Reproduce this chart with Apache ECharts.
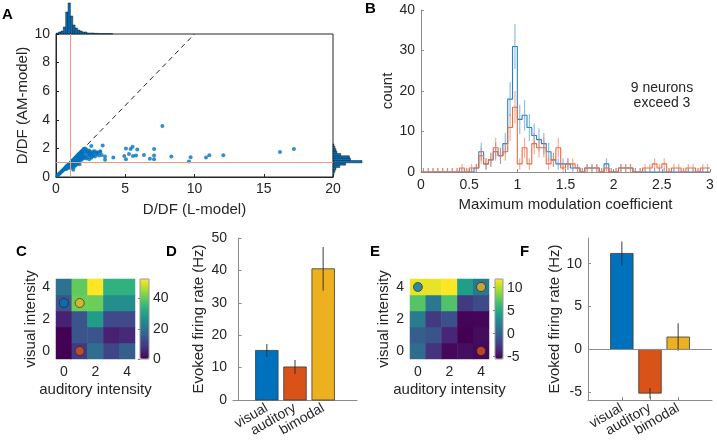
<!DOCTYPE html>
<html><head><meta charset="utf-8">
<script src="https://cdn.jsdelivr.net/npm/echarts@6/dist/echarts.min.js"></script>
<style>html,body{margin:0;padding:0;background:#fff}#c{width:717px;height:443px}</style>
</head><body><div id="c"></div>
<script>
// ---------- DATA ----------
// Panel A: scatter of D/DF (L-model) vs D/DF (AM-model)
const A_POINTS = [
 [0.1,0.08],[0.15,0.14],[0.2,0.19],[0.25,0.24],[0.3,0.28],[0.35,0.33],[0.4,0.38],[0.45,0.42],[0.5,0.47],[0.55,0.52],
 [0.6,0.56],[0.62,0.6],[0.65,0.62],[0.7,0.66],[0.72,0.7],[0.75,0.7],[0.78,0.75],[0.8,0.78],[0.82,0.74],[0.85,0.8],
 [0.88,0.85],[0.9,0.82],[0.92,0.9],[0.95,0.88],[0.97,0.93],[1.0,0.95],[1.02,0.9],[1.05,1.0],[1.08,0.98],[1.1,1.05],
 [1.12,0.95],[1.15,1.1],[1.18,1.05],[1.2,1.15],[1.22,1.0],[1.25,1.2],[1.28,1.1],[1.3,1.25],[1.32,1.15],[1.35,1.3],
 [1.38,1.2],[1.4,1.35],[1.42,1.25],[1.45,1.4],[1.48,1.3],[1.5,1.45],[1.52,1.35],[1.55,1.5],[1.58,1.4],[1.6,1.55],
 [1.62,1.45],[1.65,1.6],[1.68,1.5],[1.7,1.65],[1.72,1.4],[1.75,1.7],[1.78,1.55],[1.8,1.75],[1.82,1.6],[1.85,1.78],
 [1.88,1.65],[1.9,1.85],[1.95,1.7],[2.0,1.95],[2.05,1.8],[2.1,2.0],[2.15,1.75],[2.2,1.9],[2.25,1.6],[2.3,1.8],
 [2.35,1.7],[2.4,1.85],[2.45,1.5],[2.5,1.75],[2.6,1.65],[2.7,1.55],[2.8,1.8],[2.9,1.6],[3.0,1.7],[3.1,1.5],[3.2,1.75],
 [0.8,0.6],[0.9,0.7],[1.0,0.75],[1.05,0.8],[1.1,0.85],[1.15,0.75],[1.2,0.9],[1.25,0.85],[1.3,0.95],[1.35,0.9],
 [1.4,1.0],[1.45,1.05],[1.5,1.1],[1.55,1.0],[1.6,1.15],[1.65,1.2],[1.7,1.1],[1.75,1.25],[1.8,1.3],[1.85,1.2],
 [1.9,1.4],[1.95,1.3],[2.0,1.5],[2.05,1.35],[2.1,1.45],[2.2,1.3],[2.3,1.4],[2.4,1.25],[2.55,1.35],[2.65,1.45],
 [0.7,0.55],[0.95,0.65],[1.15,0.65],[1.4,0.8],[1.6,0.95],[1.7,0.9],[1.3,0.7],[1.45,0.85],[1.25,0.51],
 [7.68,3.57],[3.37,2.21],[2.55,2.17],[5.05,2.0],[5.39,1.96],[5.53,2.12],[5.87,1.93],[7.08,1.96],[5.27,1.61],[5.56,1.47],
 [5.78,1.5],[6.35,1.54],[6.78,1.28],[7.08,1.5],[7.08,1.24],[4.93,1.47],[5.05,1.24],[4.14,1.36],[3.54,1.43],[3.54,1.2],
 [3.3,1.54],[8.33,1.43],[9.6,1.08],[9.72,1.38],[10.83,1.36],[11.07,1.52],[12.08,1.52],[16.17,1.74],[17.18,1.96],
 [2.94,1.72],[3.18,1.8],[2.82,1.43],[2.7,1.79],[2.46,1.61]
];
const A_REF_X = 1;           // vertical reference line
const A_REF_Y = 1;           // horizontal reference line
const A_DIAG = [[0,0],[10,10]];  // identity line
const A_TOP_BIN_START = 0.02, A_TOP_BIN_WIDTH = 0.17;
const A_TOP_COUNTS = [3,6,9,21,66,93,54,27,18,12,9,6,6,3,3,3,2,2,1,1,1,1,1,1];
const A_RIGHT_BIN_START = 0, A_RIGHT_BIN_WIDTH = 0.165;
const A_RIGHT_COUNTS = [1,3,6,9,21,39,90,54,51,24,12,9,6,3];

// Panel B: histograms of maximum modulation coefficient
const B_BIN_START = 0, B_BIN_WIDTH = 0.05;
const B_BLUE = [0,0,0,0,0,0,0,0,0,0,0, 1,5,2,3,5,4,7,18,31,13,14,11,9,8,7,5,3,2,2,2,1,1,0,1,1,1,0,2,0,0,1,1,1, 0,0,0,0,0,0,0,0,0,0,0,0,0,0,0,0];
const B_ORANGE = [0,0,0,0,0,0,0,0, 1,0,1,1,4,2,3,6,4,5,11,16,2,6,2,7,6,6,2,3,6,1,2,2,1,0,1,1,1,0,1,0,0,1,1,1,0,0,1,1,2,1,2,0,1,1,0,1,1,0,1,1];
const B_NOTE = '9 neurons\nexceed 3';

// Panels C / E: heatmaps (rows = visual intensity 0..4, columns = auditory intensity 0..4)
const INTENSITIES = ['0','1','2','3','4'];
const C_ROWS = [
 [0, 9, 19, 11, 16],
 [0, 14, 14, 5, 6],
 [5, 14, 29, 12, 12],
 [14, 41, 41, 26, 26],
 [20, 40, 53, 34, 34]
];
const C_RANGE = [0, 53];
const C_MARKS = [[0,3],[1,3],[1,0]];
const E_ROWS = [
 [0.6, -2.9, -5.1, -4.8, -5.1],
 [-0.3, -1.0, -3.7, -5.5, -5.0],
 [1.8, -2.5, -1.2, -5.3, -5.3],
 [7.2, 1.5, 7.0, -2.5, -1.5],
 [11.3, 11.3, 11.9, 4.2, 1.5]
];
const E_RANGE = [-5.5, 11.9];
const E_MARKS = [[0,4],[4,4],[4,0]];
const MARK_COLORS = ['#0072BD','#EDB120','#D95319'];

// Panels D / F: evoked firing rates
const CATS = ['visual','auditory','bimodal'];
const CAT_POS = [1,2,3];
const D_MEANS = [15.3, 10.2, 40.5];
const D_ERR = [1.95, 2.15, 6.7];
const F_MEANS = [11.2, -5.1, 1.45];
const F_ERR = [1.4, 0.6, 1.6];
const BAR_COLORS = ['#0072BD','#D95319','#EDB120'];

// ---------- STYLE ----------
const FONT = 'Liberation Sans, Arial, Helvetica, sans-serif';
const TXT = '#262626';
const AXC = '#8c8c8c';
const VIRIDIS = ['#440154','#482878','#3e4989','#31688e','#26828e','#1f9e89','#35b779','#6ece58','#b5de2b','#fde725'];

const chart = echarts.init(document.getElementById('c'), null, {renderer:'canvas'});

function baseAxis(extra){
  return Object.assign({
    axisLine:{show:true, lineStyle:{color:AXC, width:1}},
    axisTick:{show:true, inside:true, length:3, lineStyle:{color:AXC}},
    axisLabel:{color:TXT, fontSize:14, fontFamily:FONT},
    splitLine:{show:false},
    nameTextStyle:{color:TXT, fontSize:15, fontFamily:FONT},
    nameLocation:'middle'
  }, extra);
}
function hidden(extra){ return Object.assign({show:false, splitLine:{show:false}}, extra); }

// derived series data
const aTop = A_TOP_COUNTS.map((c,i)=>[A_TOP_BIN_START+i*A_TOP_BIN_WIDTH, A_TOP_BIN_START+(i+1)*A_TOP_BIN_WIDTH, c]);
const aRight = A_RIGHT_COUNTS.map((c,i)=>[A_RIGHT_BIN_START+i*A_RIGHT_BIN_WIDTH, A_RIGHT_BIN_START+(i+1)*A_RIGHT_BIN_WIDTH, c]);
function stepData(counts){
  const d = counts.map((c,i)=>[B_BIN_START+i*B_BIN_WIDTH, c]);
  d.push([B_BIN_START+counts.length*B_BIN_WIDTH, counts[counts.length-1]]);
  return d;
}
function errData(counts){ return counts.map((c,i)=>[B_BIN_START+(i+0.5)*B_BIN_WIDTH, c, Math.sqrt(Math.max(c,1))]); }
function heatData(rows){ const d=[]; rows.forEach((r,y)=>r.forEach((v,x)=>d.push([x,y,v]))); return d; }
function markData(marks){ return marks.map((m,i)=>({value:m, itemStyle:{color:MARK_COLORS[i]}})); }
function barData(means, errs){ return means.map((m,i)=>[CAT_POS[i], m, errs[i]]); }

function renderTopHist(params, api){
  const a = api.coord([api.value(0), 0]), b = api.coord([api.value(1), api.value(2)]);
  return {type:'rect', shape:{x:a[0], y:b[1], width:b[0]-a[0], height:a[1]-b[1]}, style:{fill:'#0072BD', stroke:'#1a1a1a', lineWidth:0.5}};
}
function renderRightHist(params, api){
  const a = api.coord([0, api.value(0)]), b = api.coord([api.value(2), api.value(1)]);
  return {type:'rect', shape:{x:a[0], y:b[1], width:b[0]-a[0], height:a[1]-b[1]}, style:{fill:'#0072BD', stroke:'#1a1a1a', lineWidth:0.5}};
}
function errRenderer(color){
  return function(params, api){
    const x = api.value(0), n = api.value(1), e = api.value(2);
    const a = api.coord([x, n-e]), b = api.coord([x, n+e]);
    return {type:'line', shape:{x1:a[0], y1:a[1], x2:b[0], y2:b[1]}, style:{stroke:color, lineWidth:1.2}};
  };
}
const BAR_W = 0.8;
function renderBars(params, api){
  const x = api.value(0), m = api.value(1), e = api.value(2);
  const a = api.coord([x-BAR_W/2, 0]), b = api.coord([x+BAR_W/2, m]);
  const t = api.coord([x, m+e]), u = api.coord([x, m-e]);
  return {type:'group', children:[
    {type:'rect', shape:{x:a[0], y:Math.min(a[1],b[1]), width:b[0]-a[0], height:Math.abs(a[1]-b[1])}, style:{fill:BAR_COLORS[params.dataIndex], stroke:'#3a3a3a', lineWidth:0.8}},
    {type:'line', shape:{x1:t[0], y1:t[1], x2:u[0], y2:u[1]}, style:{stroke:'rgba(40,40,40,0.7)', lineWidth:1.3}}
  ]};
}

const grids = [
  {left:56, top:34, width:277, height:143, show:true, borderColor:'#262626', borderWidth:1, backgroundColor:'transparent'}, //0 A main
  {left:56, top:2, width:277, height:32},     //1 A top hist
  {left:333, top:34, width:30, height:143},   //2 A right hist
  {left:421, top:10, width:289, height:162},  //3 B
  {left:56, top:279, width:79, height:80},    //4 C
  {left:233, top:238, width:124, height:162}, //5 D
  {left:410, top:279, width:79, height:80},   //6 E
  {left:588, top:238, width:124, height:162}, //7 F
  {left:140, top:279, width:9, height:80, show:true, borderColor:'#999', borderWidth:1, backgroundColor:'transparent', z:5}, //8 C colorbar
  {left:495, top:279, width:8, height:80, show:true, borderColor:'#999', borderWidth:1, backgroundColor:'transparent', z:5}  //9 E colorbar
];

const catLabel = {customValues:CAT_POS, formatter:(v)=>CATS[Math.round(v)-1], rotate:30, margin:7, color:TXT, fontSize:14, fontFamily:FONT};
const catTick = {show:true, customValues:CAT_POS, inside:true, length:3, lineStyle:{color:AXC}};

const xAxes = [
  baseAxis({gridIndex:0, type:'value', min:0, max:20, interval:5, name:'D/DF (L-model)', nameGap:25,
    axisLine:{show:true, lineStyle:{color:'#262626'}}, axisTick:{show:true, inside:true, length:3, lineStyle:{color:'#262626'}}, axisLabel:{color:TXT, fontSize:14, fontFamily:FONT, margin:5}}),
  hidden({gridIndex:1, type:'value', min:0, max:20}),
  hidden({gridIndex:2, type:'value', min:0, max:93}),
  baseAxis({gridIndex:3, type:'value', min:0, max:3, interval:0.5, name:'Maximum modulation coefficient', nameGap:25,
    axisLabel:{color:TXT, fontSize:14, fontFamily:FONT, margin:6, formatter:(v)=>String(v)}}),
  baseAxis({gridIndex:4, type:'category', data:INTENSITIES, name:'auditory intensity', nameGap:23,
    axisLine:{show:false}, axisTick:{show:false}, axisLabel:{interval:1, color:TXT, fontSize:14, fontFamily:FONT, margin:6}}),
  baseAxis({gridIndex:5, type:'value', min:-0.2, max:4.2, axisLabel:catLabel, axisTick:catTick}),
  baseAxis({gridIndex:6, type:'category', data:INTENSITIES, name:'auditory intensity', nameGap:23,
    axisLine:{show:false}, axisTick:{show:false}, axisLabel:{interval:1, color:TXT, fontSize:14, fontFamily:FONT, margin:6}}),
  baseAxis({gridIndex:7, type:'value', min:-0.2, max:4.2, axisLine:{show:true, onZero:false, lineStyle:{color:AXC}}, axisLabel:catLabel, axisTick:catTick}),
  hidden({gridIndex:8, type:'value', min:0, max:1}),
  hidden({gridIndex:9, type:'value', min:0, max:1})
];
const yAxes = [
  baseAxis({gridIndex:0, type:'value', min:0, max:10, interval:2, name:'D/DF (AM-model)', nameGap:22,
    axisLine:{show:true, lineStyle:{color:'#262626'}}, axisTick:{show:true, inside:true, length:3, lineStyle:{color:'#262626'}}, axisLabel:{color:TXT, fontSize:14, fontFamily:FONT, margin:6}}),
  hidden({gridIndex:1, type:'value', min:0, max:96}),
  hidden({gridIndex:2, type:'value', min:0, max:10}),
  baseAxis({gridIndex:3, type:'value', min:0, max:40, interval:10, name:'count', nameGap:23, axisLabel:{color:TXT, fontSize:14, fontFamily:FONT, margin:6}}),
  baseAxis({gridIndex:4, type:'category', data:INTENSITIES, name:'visual intensity', nameGap:18,
    axisLine:{show:false}, axisTick:{show:false}, axisLabel:{interval:1, color:TXT, fontSize:14, fontFamily:FONT, margin:6}}),
  baseAxis({gridIndex:5, type:'value', min:0, max:50, interval:10, name:'Evoked firing rate (Hz)', nameGap:27, axisLabel:{color:TXT, fontSize:14, fontFamily:FONT, margin:6}}),
  baseAxis({gridIndex:6, type:'category', data:INTENSITIES, name:'visual intensity', nameGap:19,
    axisLine:{show:false}, axisTick:{show:false}, axisLabel:{interval:1, color:TXT, fontSize:14, fontFamily:FONT, margin:6}}),
  baseAxis({gridIndex:7, type:'value', min:-5.9, max:13, name:'Evoked firing rate (Hz)', nameGap:26,
    axisLine:{show:true, onZero:false, lineStyle:{color:AXC}},
    axisTick:{show:true, inside:true, length:3, customValues:[-5,0,5,10], lineStyle:{color:AXC}},
    axisLabel:{customValues:[-5,0,5,10], color:TXT, fontSize:14, fontFamily:FONT, margin:6}}),
  baseAxis({gridIndex:8, type:'value', min:C_RANGE[0], max:C_RANGE[1], position:'right',
    axisLine:{show:false}, axisTick:{show:true, inside:true, length:2, customValues:[0,20,40], lineStyle:{color:'#777'}},
    axisLabel:{customValues:[0,20,40], color:TXT, fontSize:14, fontFamily:FONT, margin:4}}),
  baseAxis({gridIndex:9, type:'value', min:E_RANGE[0], max:E_RANGE[1], position:'right',
    axisLine:{show:false}, axisTick:{show:true, inside:true, length:2, customValues:[-5,0,5,10], lineStyle:{color:'#777'}},
    axisLabel:{customValues:[-5,0,5,10], color:TXT, fontSize:14, fontFamily:FONT, margin:4}})
];

const series = [
  // A
  {type:'scatter', xAxisIndex:0, yAxisIndex:0, data:A_POINTS, symbolSize:4, itemStyle:{color:'#0072BD'}, z:3,
   markLine:{silent:true, symbol:'none', label:{show:false}, lineStyle:{color:'#EF9A7A', width:1, type:'solid'},
     data:[{xAxis:A_REF_X}, {yAxis:A_REF_Y}]}},
  {type:'line', xAxisIndex:0, yAxisIndex:0, data:A_DIAG, symbol:'none', lineStyle:{color:'#222', width:1, type:[5,4]}, z:2},
  {type:'custom', xAxisIndex:1, yAxisIndex:1, data:aTop, encode:{x:[0,1], y:2}, renderItem:renderTopHist},
  {type:'custom', xAxisIndex:2, yAxisIndex:2, data:aRight, encode:{x:2, y:[0,1]}, renderItem:renderRightHist},
  // B
  {type:'line', xAxisIndex:3, yAxisIndex:3, step:'end', data:stepData(B_BLUE), symbol:'none', lineStyle:{color:'#2B80C5', width:1.1}, z:2},
  {type:'custom', xAxisIndex:3, yAxisIndex:3, data:errData(B_BLUE), encode:{x:0, y:1}, renderItem:errRenderer('rgba(60,150,220,0.6)'), clip:true, z:3},
  {type:'line', xAxisIndex:3, yAxisIndex:3, step:'end', data:stepData(B_ORANGE), symbol:'none', lineStyle:{color:'#EC6A3C', width:1.1}, z:4},
  {type:'custom', xAxisIndex:3, yAxisIndex:3, data:errData(B_ORANGE), encode:{x:0, y:1}, renderItem:errRenderer('rgba(240,120,80,0.6)'), clip:true, z:5},
  // C
  {type:'heatmap', xAxisIndex:4, yAxisIndex:4, data:heatData(C_ROWS), itemStyle:{borderWidth:0}},
  {type:'scatter', xAxisIndex:4, yAxisIndex:4, data:markData(C_MARKS), symbolSize:9, itemStyle:{borderColor:'#222', borderWidth:0.8}, z:5},
  // D
  {type:'custom', xAxisIndex:5, yAxisIndex:5, data:barData(D_MEANS, D_ERR), encode:{x:0, y:1}, renderItem:renderBars},
  // E
  {type:'heatmap', xAxisIndex:6, yAxisIndex:6, data:heatData(E_ROWS), itemStyle:{borderWidth:0}},
  {type:'scatter', xAxisIndex:6, yAxisIndex:6, data:markData(E_MARKS), symbolSize:9, itemStyle:{borderColor:'#222', borderWidth:0.8}, z:5},
  // F
  {type:'custom', xAxisIndex:7, yAxisIndex:7, data:barData(F_MEANS, F_ERR), encode:{x:0, y:1}, renderItem:renderBars,
   markLine:{silent:true, symbol:'none', label:{show:false}, lineStyle:{color:'#8c8c8c', width:1, type:'solid'}, data:[{yAxis:0}]}}
];

const letter = (t, x, y) => ({type:'text', x:x, y:y, style:{text:t, fontSize:15, fontWeight:'bold', fontFamily:FONT, fill:'#000'}});

chart.setOption({
  animation:false,
  textStyle:{fontFamily:FONT},
  grid:grids, xAxis:xAxes, yAxis:yAxes, series:series,
  visualMap:[
    {type:'continuous', seriesIndex:8, min:C_RANGE[0], max:C_RANGE[1], inRange:{color:VIRIDIS}, left:140, top:279,
     itemWidth:9, itemHeight:80, padding:0, calculable:false, orient:'vertical', z:1},
    {type:'continuous', seriesIndex:11, min:E_RANGE[0], max:E_RANGE[1], inRange:{color:VIRIDIS}, left:495, top:279,
     itemWidth:8, itemHeight:80, padding:0, calculable:false, orient:'vertical', z:1}
  ],
  graphic:[
    letter('A', 2, 7), letter('B', 365, 1), letter('C', 16, 244), letter('D', 166, 244), letter('E', 370, 244), letter('F', 520, 244),
    {type:'text', x:662, y:81, style:{text:B_NOTE, align:'center', verticalAlign:'top', fontSize:14, lineHeight:15, fontFamily:FONT, fill:TXT}}
  ]
});
</script></body></html>
